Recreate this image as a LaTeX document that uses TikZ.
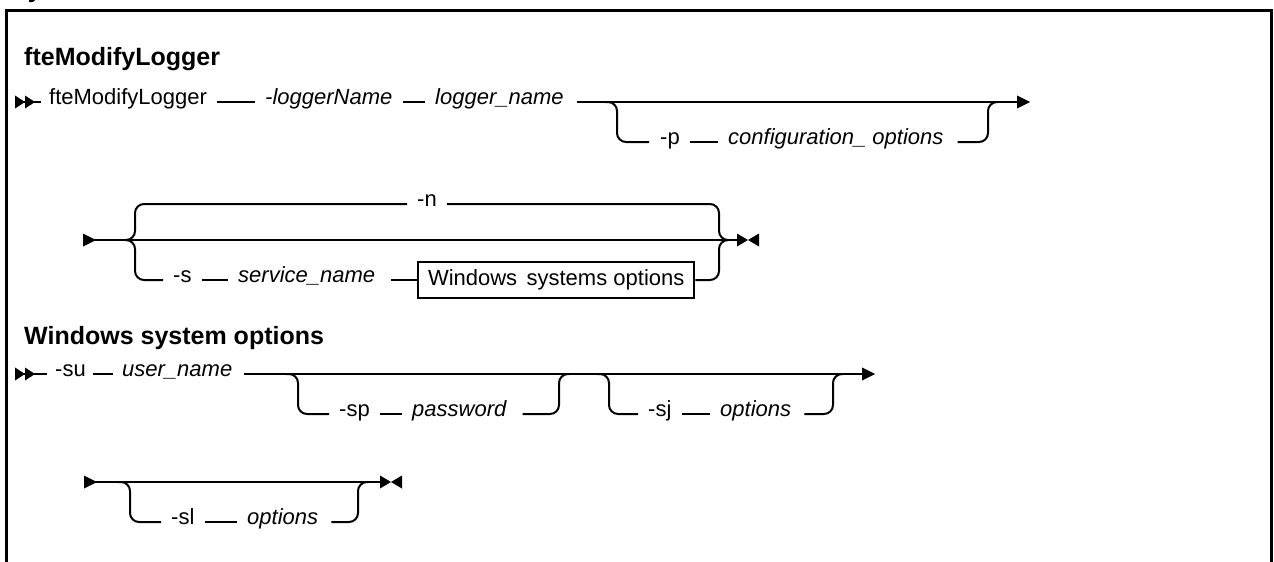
\documentclass[tikz,border=0pt]{standalone}
\usepackage{fontspec}
\setmainfont{Liberation Sans}
\begin{document}
\begin{tikzpicture}[x=1pt,y=-1pt,
  lbl/.style={inner sep=0pt, anchor=mid west, font=\fontsize{22}{26}\selectfont},
  var/.style={lbl, font=\fontsize{22}{26}\selectfont\itshape},
  ttl/.style={inner sep=0pt, anchor=base west, font=\fontsize{25}{30}\selectfont\bfseries},
  rail/.style={line width=2pt},
  conn/.style={rail, shorten <=10pt, shorten >=10pt},
  railbend/.style={rail, rounded corners=9pt},
  frm/.style={line width=3pt},
  refbox/.style={draw, line width=2pt, inner xsep=10pt, inner ysep=0pt, minimum height=36pt,
              anchor=west, font=\fontsize{22}{26}\selectfont}]
\useasboundingbox (0,0) rectangle (1274,562);
\begin{scope}
\clip (0,0) rectangle (1274,562);
\node[ttl] (t0) at (11,-2) {Syntax};
\end{scope}
% frame
\draw[frm] (6.5,562) -- (6.5,10) -- (1271.5,10) -- (1271.5,562);

% ---------- fteModifyLogger ----------
\node[ttl] (t1) at (24,65) {fteModifyLogger};
\coordinate (s1) at (15,102);
\node[lbl] (a1) at (49,102) {fteModifyLogger};
\node[var] (a2) at (265,102) {-loggerName};
\node[var] (a3) at (435,102) {logger\_name};
\node[lbl] (a4) at (660,142) {-p};
\node[var] (a5) at (728,142) {configuration\_ options};
\coordinate (b1) at (605,102);
\coordinate (m1) at (988,102);
\coordinate (e1) at (1030,102);
\fill (15,95.5) -- (25,102) -- (15,108.5) -- cycle;
\fill (25,95.5) -- (35,102) -- (25,108.5) -- cycle;
\draw[rail, shorten >=8pt] (s1) -- (a1.mid west);
\draw[conn] (a1.mid east) -- (a2.mid west);
\draw[conn] (a2.mid east) -- (a3.mid west);
\draw[rail, shorten <=13pt] (a3.mid east) -- ([xshift=-12pt]e1);
\fill (1017,95.5) -- (1030,102) -- (1017,108.5) -- cycle;
\draw[railbend] (b1) -- ++(12,0) |- ([xshift=-11pt]a4.mid west);
\draw[conn] (a4.mid east) -- (a5.mid west);
\draw[railbend] ([xshift=14pt]a5.mid east) -| (m1) -- ++(10,0);

% ---------- choice row ----------
\coordinate (s2) at (83,240);
\coordinate (t2) at (127,240);
\coordinate (q2) at (719,240);
\coordinate (j2) at (737,240);
\node[lbl, anchor=mid] (n) at (427,204) {-n};
\node[lbl] (sx) at (173,280) {-s};
\node[var] (sn) at (238,280) {service\_name};
\node[refbox] (box) at (417,280) {Windows\hspace{0.15em} systems options};
\fill (83,233.5) -- (96,240) -- (83,246.5) -- cycle;
\draw[rail] (s2) -- (j2);
\draw[railbend] (t2) -- ++(8,0) |- ([xshift=-10pt]n.mid west);
\draw[railbend] ([xshift=10pt]n.mid east) -| (q2) -- ++(8,0);
\draw[railbend] (t2) -- ++(8,0) |- ([xshift=-10pt]sx.mid west);
\draw[conn] (sx.mid east) -- (sn.mid west);
\draw[rail, shorten <=16pt] (sn.mid east) -- (box.west |- sn.mid east);
\draw[railbend] (box.east |- sn.mid east) -| (q2) -- ++(8,0);
\fill (737,233.5) -- (748,240) -- (737,246.5) -- cycle;
\fill (759,233.5) -- (748,240) -- (759,246.5) -- cycle;

% ---------- Windows system options ----------
\node[ttl] (t2t) at (24,344) {Windows system options};
\coordinate (s3) at (15,374);
\node[lbl] (w1) at (55,374) {-su};
\node[var] (w2) at (122,374) {user\_name};
\node[lbl] (w3) at (339,414) {-sp};
\node[var] (w4) at (412,414) {password};
\node[lbl] (w5) at (648,414) {-sj};
\node[var] (w6) at (720,414) {options};
\coordinate (b3) at (286,374);
\coordinate (m3) at (559,374);
\coordinate (b3b) at (597,374);
\coordinate (m3b) at (833,374);
\coordinate (e3) at (875,374);
\fill (15,367.5) -- (25,374) -- (15,380.5) -- cycle;
\fill (25,367.5) -- (35,374) -- (25,380.5) -- cycle;
\draw[rail, shorten >=8pt] (s3) -- (w1.mid west);
\draw[rail, shorten <=7pt, shorten >=9pt] (w1.mid east) -- (w2.mid west);
\draw[rail, shorten <=12pt] (w2.mid east) -- ([xshift=-12pt]e3);
\fill (862,367.5) -- (875,374) -- (862,380.5) -- cycle;
\draw[railbend] (b3) -- ++(12,0) |- ([xshift=-10pt]w3.mid west);
\draw[conn] (w3.mid east) -- (w4.mid west);
\draw[railbend] ([xshift=16pt]w4.mid east) -| (m3) -- ++(10,0);
\draw[railbend] (b3b) -- ++(12,0) |- ([xshift=-10pt]w5.mid west);
\draw[conn] (w5.mid east) -- (w6.mid west);
\draw[railbend] ([xshift=13pt]w6.mid east) -| (m3b) -- ++(10,0);

% ---------- continuation ----------
\coordinate (s4) at (84,482);
\coordinate (b4) at (118,482);
\coordinate (m4) at (358,482);
\coordinate (j4) at (380,482);
\node[lbl] (v1) at (171,522) {-sl};
\node[var] (v2) at (247,522) {options};
\fill (84,475.5) -- (97,482) -- (84,488.5) -- cycle;
\draw[rail] (s4) -- (j4);
\draw[railbend] (b4) -- ++(12,0) |- ([xshift=-10pt]v1.mid west);
\draw[conn] (v1.mid east) -- (v2.mid west);
\draw[railbend] ([xshift=13pt]v2.mid east) -| (m4) -- ++(10,0);
\fill (380,475.5) -- (391,482) -- (380,488.5) -- cycle;
\fill (402,475.5) -- (391,482) -- (402,488.5) -- cycle;
\end{tikzpicture}
\end{document}
